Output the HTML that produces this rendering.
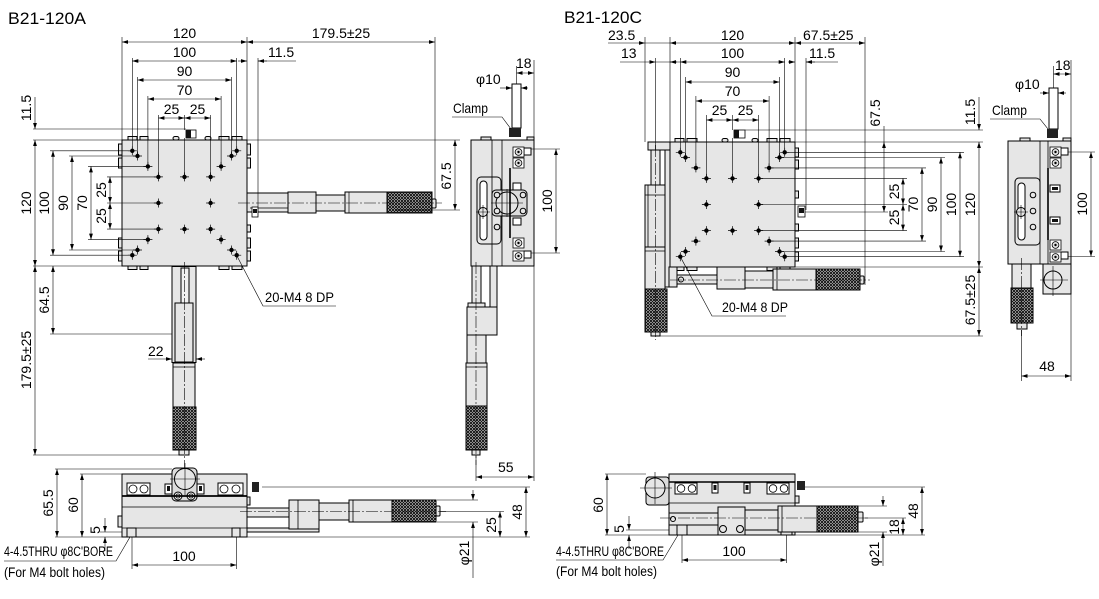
<!DOCTYPE html>
<html><head><meta charset="utf-8">
<style>html,body{margin:0;padding:0;background:#fff}svg{display:block}</style>
</head><body>
<svg xmlns="http://www.w3.org/2000/svg" width="1099" height="599" viewBox="0 0 1099 599" font-family="'Liberation Sans', Arial, sans-serif" font-size="14">
<defs>
<marker id="a" viewBox="0 0 10 10" refX="10" refY="5" markerWidth="6" markerHeight="6" markerUnits="userSpaceOnUse" orient="auto-start-reverse"><path d="M0,1.8L10,5L0,8.2z" fill="#000"/></marker>
<pattern id="k" width="3" height="3" patternUnits="userSpaceOnUse"><rect width="3" height="3" fill="#fff"/><path d="M0,0L3,3M3,0L0,3" stroke="#111" stroke-width="1"/></pattern>
<g id="h"><path d="M-4.5,0H4.5M0,-4.5V4.5" stroke="#000" stroke-width=".7"/><circle r="2.2" fill="#000"/></g>
<g id="b"><rect x="-5.5" y="-5" width="11" height="10" fill="#fff" stroke="#000" stroke-width=".8"/><circle r="3.4" fill="#e0e0e0" stroke="#000" stroke-width=".8"/><circle r="1.2" fill="#000"/></g>
</defs>
<rect width="1099" height="599" fill="#fff"/>

<!-- ================= B21-120A ================= -->
<text x="8" y="24" font-size="17" textLength="78" lengthAdjust="spacingAndGlyphs">B21-120A</text>

<g fill="#e6e6e6" stroke="#000" stroke-width="1">
  <rect x="128" y="136.5" width="9" height="3.5"/><rect x="140" y="136.5" width="8" height="3.5"/>
  <rect x="173" y="136.5" width="6" height="3.5" rx="2"/><rect x="205" y="136.5" width="6" height="3.5" rx="2"/>
  <rect x="219" y="136.5" width="10" height="3.5"/><rect x="232" y="136.5" width="10" height="3.5"/>
  <rect x="128" y="266" width="9" height="3.5"/><rect x="140" y="266" width="8" height="3.5"/>
  <rect x="219" y="266" width="10" height="3.5"/><rect x="232" y="266" width="10" height="3.5"/>
  <rect x="247" y="144" width="3.5" height="11"/><rect x="247" y="158" width="3.5" height="10"/>
  <rect x="247" y="225" width="3.5" height="7"/><rect x="247" y="238" width="3.5" height="10"/><rect x="247" y="251" width="3.5" height="10"/>
  <rect x="118.5" y="144" width="3.5" height="11"/><rect x="118.5" y="158" width="3.5" height="10"/>
  <rect x="118.5" y="238" width="3.5" height="10"/><rect x="118.5" y="251" width="3.5" height="10"/>
  <rect x="122" y="140" width="125" height="126"/>
  <rect x="247" y="193" width="41" height="19"/>
  <rect x="288" y="192" width="28" height="21"/>
  <rect x="316" y="195" width="29" height="16"/>
  <rect x="345" y="192" width="42" height="21"/>
  <rect x="387" y="192" width="45" height="21" fill="url(#k)"/>
  <rect x="432" y="199" width="4" height="9" rx="1"/>
  <rect x="172" y="266.5" width="24" height="96"/>
  <rect x="181" y="268" width="8" height="35" fill="#f2f2f2"/>
  <rect x="175" y="303" width="18" height="59"/>
  <rect x="173" y="363" width="22" height="44"/>
  <rect x="173" y="407" width="23" height="43" fill="url(#k)"/>
  <rect x="179" y="450" width="10" height="5"/>
</g>
<g stroke="#000" stroke-width=".7" fill="none">
  <path d="M250,208H288M349,192V213M173,367H195"/>
</g>
<rect x="186" y="130" width="10" height="8" fill="#fff" stroke="#000" stroke-width=".8"/><rect x="186" y="130" width="5" height="8" fill="#111"/>
<rect x="252" y="207" width="6" height="10" fill="#fff" stroke="#000" stroke-width=".8"/><rect x="253" y="209" width="4" height="4" fill="#111"/>
<g>
  <use href="#h" x="132.3" y="150.8"/><use href="#h" x="236.7" y="150.8"/><use href="#h" x="132.3" y="255.2"/><use href="#h" x="236.7" y="255.2"/>
  <use href="#h" x="137.5" y="156"/><use href="#h" x="231.5" y="156"/><use href="#h" x="137.5" y="250"/><use href="#h" x="231.5" y="250"/>
  <use href="#h" x="147.9" y="166.4"/><use href="#h" x="221.1" y="166.4"/><use href="#h" x="147.9" y="239.6"/><use href="#h" x="221.1" y="239.6"/>
  <use href="#h" x="158.4" y="176.9"/><use href="#h" x="210.6" y="176.9"/><use href="#h" x="158.4" y="229.1"/><use href="#h" x="210.6" y="229.1"/>
  <use href="#h" x="184.5" y="176.9"/><use href="#h" x="184.5" y="229.1"/><use href="#h" x="158.4" y="203"/><use href="#h" x="210.6" y="203"/>
</g>
<g stroke="#000" stroke-width=".6" fill="none" stroke-dasharray="12 2 2 2">
  <path d="M238,203H442M184.5,262V470"/>
</g>
<g stroke="#000" stroke-width=".6" fill="none">
  <path d="M122,37V140M247,37V192M435,37V199M132.3,58V150.8M236.7,58V150.8M258,58V207M137.5,77V156M231.5,77V156M147.9,96V166.4M221.1,96V166.4M158.4,115V176.9M210.6,115V176.9M184.5,115V130M184.5,138V176.9"/>
  <path d="M33,129H186M33,140H460M33,266H122M50,150.8H132.3M50,255.2H132.3M69,156H137.5M69,250H137.5M88,166.4H147.9M88,239.6H147.9M107,176.9H158.4M107,203H158.4M107,229.1H158.4M395,210H460M33,455H182M50,334H172M258,61H296"/>
  <g marker-start="url(#a)" marker-end="url(#a)">
    <path d="M122,42H247"/><path d="M247,42H435"/><path d="M132.3,61H236.7"/><path d="M137.5,80H231.5"/><path d="M147.9,99H221.1"/>
    <path d="M158.4,118H184.5"/><path d="M184.5,118H210.6"/>
    <path d="M35,140V266"/><path d="M53,150.8V255.2"/><path d="M72,156V250"/><path d="M91,166.4V239.6"/>
    <path d="M110,176.9V203"/><path d="M110,203V229.1"/><path d="M455,140V210"/>
    <path d="M35,266V455"/><path d="M53,266V334"/>
  </g>
  <g marker-end="url(#a)">
    <path d="M238,61H247"/><path d="M267,61H258"/><path d="M35,97V129"/>
    <path d="M148,359H172"/><path d="M205,359H196"/>
  </g>
  <path d="M237,256L263,306H336"/>
</g>
<g text-anchor="middle">
  <text x="184.5" y="38">120</text><text x="341" y="38">179.5±25</text>
  <text x="184.5" y="57">100</text><text x="184.5" y="76">90</text><text x="184.5" y="95">70</text>
  <text x="171.5" y="114">25</text><text x="197.5" y="114">25</text>
  <text transform="translate(31,108) rotate(-90)">11.5</text>
  <text transform="translate(31,203) rotate(-90)">120</text>
  <text transform="translate(49,203) rotate(-90)">100</text>
  <text transform="translate(68,203) rotate(-90)">90</text>
  <text transform="translate(87,203) rotate(-90)">70</text>
  <text transform="translate(106,190) rotate(-90)">25</text>
  <text transform="translate(106,216) rotate(-90)">25</text>
  <text transform="translate(451,176) rotate(-90)">67.5</text>
  <text transform="translate(49,300) rotate(-90)">64.5</text>
  <text transform="translate(31,360) rotate(-90)">179.5±25</text>
</g>
<text x="268" y="57">11.5</text>
<text x="148" y="356">22</text>
<text x="265" y="302" textLength="69" lengthAdjust="spacingAndGlyphs">20-M4 8 DP</text>

<!-- A side view -->
<g fill="#e6e6e6" stroke="#000" stroke-width="1">
  <rect x="481" y="137" width="10" height="3"/><rect x="527" y="137" width="7" height="3"/>
  <rect x="512" y="84" width="9" height="44" fill="#fff"/>
  <rect x="471" y="140" width="63" height="126"/>
  <rect x="477" y="177" width="24" height="67" rx="4"/>
  <rect x="480" y="181" width="7" height="59" rx="3.5" fill="#fff"/>
  <rect x="492" y="190" width="35" height="26" rx="4" fill="#dcdcdc"/>
  <circle cx="507" cy="203" r="11"/>
  <circle cx="483" cy="212" r="4.5"/>
  <circle cx="497" cy="195" r="2.8"/><circle cx="497" cy="211" r="2.8"/><circle cx="497" cy="227" r="2.8"/>
  <circle cx="523" cy="195" r="2.8"/><circle cx="523" cy="211" r="2.8"/>
  <rect x="513" y="183" width="8" height="7" fill="#fff"/><rect x="513" y="218" width="8" height="7" fill="#fff"/>
  <rect x="524" y="148" width="7" height="7" fill="#fff"/><rect x="524" y="251" width="7" height="7" fill="#fff"/>
  <rect x="472" y="266" width="9" height="37"/>
  <rect x="490" y="266" width="7" height="69"/>
  <rect x="468" y="303" width="17" height="4"/>
  <rect x="467" y="307" width="30" height="28"/>
  <rect x="467" y="335" width="19" height="28"/>
  <rect x="466" y="363" width="21" height="43"/>
  <rect x="466" y="406" width="21" height="44" fill="url(#k)"/>
  <rect x="472" y="450" width="8" height="5"/>
</g>
<rect x="509" y="128" width="12" height="9" fill="#222"/>
<use href="#b" x="518.5" y="152"/><use href="#b" x="518.5" y="163"/><use href="#b" x="518.5" y="243"/><use href="#b" x="518.5" y="256"/>
<g stroke="#000" fill="none">
  <path d="M492,140V266M502,140V266M466,367H487" stroke-width=".8"/>
  <path d="M510,168V238" stroke-width="1.6"/>
  <path d="M491,203H523M507,189V217M476,212H490M483,205V219" stroke-width=".6"/>
  <path d="M476,262V465" stroke-width=".6" stroke-dasharray="12 2 2 2"/>
</g>
<g stroke="#000" stroke-width=".6" fill="none">
  <path d="M452,117H502L511,129"/>
  <path d="M516.5,66V84M534,60V481M531,149H560M531,253H560M476,455V481"/>
  <g marker-start="url(#a)" marker-end="url(#a)">
    <path d="M516.5,73H534"/><path d="M556,149V253"/><path d="M476,477H534"/>
  </g>
  <g marker-end="url(#a)"><path d="M500,88H512"/><path d="M528,88H521"/></g>
</g>
<text x="453" y="113" textLength="35" lengthAdjust="spacingAndGlyphs">Clamp</text>
<text x="476" y="84">φ10</text>
<text x="516" y="68">18</text>
<text x="498" y="472">55</text>
<text transform="translate(552,201) rotate(-90)" text-anchor="middle">100</text>

<!-- A front view -->
<g fill="#e6e6e6" stroke="#000" stroke-width="1">
  <rect x="118" y="516" width="4" height="11"/>
  <rect x="247" y="497" width="3" height="8"/>
  <rect x="122" y="474" width="125" height="63"/>
  <rect x="127" y="528" width="9" height="9"/><rect x="232" y="528" width="8" height="9"/>
  <rect x="127" y="483" width="23" height="12" fill="#fff"/><rect x="218" y="483" width="25" height="12" fill="#fff"/>
  <rect x="165" y="484" width="7" height="10" fill="#fff"/><rect x="197" y="484" width="7" height="10" fill="#fff"/>
  <rect x="172" y="468" width="25" height="33" rx="4" fill="#dcdcdc"/>
  <circle cx="185" cy="479" r="10.5"/>
  <circle cx="178" cy="496" r="4"/><circle cx="191" cy="496" r="4"/>
  <rect x="247" y="528" width="72" height="4"/>
  <rect x="247" y="508" width="42" height="9"/>
  <rect x="289" y="500" width="30" height="29"/>
  <rect x="319" y="503" width="30" height="17"/>
  <rect x="349" y="500" width="43" height="22"/>
  <rect x="392" y="500" width="44" height="22" fill="url(#k)"/>
  <rect x="436" y="506" width="4" height="10" rx="1"/>
</g>
<g fill="#fff" stroke="#000" stroke-width=".8">
  <circle cx="133" cy="489" r="4"/><circle cx="144" cy="489" r="4"/><circle cx="224" cy="489" r="4"/><circle cx="236" cy="489" r="4"/>
  <circle cx="178" cy="496" r="2"/><circle cx="191" cy="496" r="2"/>
</g>
<rect x="252" y="482" width="7" height="10" fill="#222"/>
<rect x="167" y="486" width="3" height="5" fill="#111"/><rect x="199" y="486" width="3" height="5" fill="#111"/>
<g stroke="#000" fill="none">
  <path d="M122,496H247" stroke-width="1.8"/>
  <path d="M122,507H247M122,528H247M353,500V522M298,500V529" stroke-width=".8"/>
  <path d="M170,479H200M185,463V495" stroke-width=".6"/>
  <path d="M240,511.5H446" stroke-width=".6" stroke-dasharray="12 2 2 2"/>
</g>
<g stroke="#000" stroke-width=".6" fill="none">
  <path d="M55,469H172M80,474H122M55,537H530M100,532H122M262,487H530M440,511.5H504M437,500H478M437,522H478M473,532V578M132,537V569M236.5,537V569"/>
  <g marker-start="url(#a)" marker-end="url(#a)">
    <path d="M57,469V537"/><path d="M82,474V537"/><path d="M526,487V537"/><path d="M500,511.5V537"/><path d="M132,565H236.5"/>
  </g>
  <g marker-end="url(#a)">
    <path d="M105,518V532"/><path d="M105,551V537"/><path d="M473,490V500"/><path d="M473,532V522"/>
  </g>
  <path d="M4,561H116L130,537"/>
</g>
<g text-anchor="middle">
  <text transform="translate(53,503) rotate(-90)">65.5</text>
  <text transform="translate(78,505) rotate(-90)">60</text>
  <text transform="translate(100,530) rotate(-90)">5</text>
  <text transform="translate(522,512) rotate(-90)">48</text>
  <text transform="translate(496,525) rotate(-90)">25</text>
  <text transform="translate(469,553) rotate(-90)">φ21</text>
  <text x="184" y="561">100</text>
</g>
<text x="4" y="556" font-size="13.5" textLength="109" lengthAdjust="spacingAndGlyphs">4-4.5THRU φ8C'BORE</text>
<text x="4" y="577" font-size="13.5" textLength="101" lengthAdjust="spacingAndGlyphs">(For M4 bolt holes)</text>

<!-- ================= B21-120C ================= -->
<text x="564" y="23" font-size="17" textLength="78" lengthAdjust="spacingAndGlyphs">B21-120C</text>

<g fill="#e6e6e6" stroke="#000" stroke-width="1">
  <rect x="675" y="138.5" width="9" height="3.5"/><rect x="687" y="138.5" width="10" height="3.5"/>
  <rect x="722" y="138.5" width="6" height="3.5" rx="2"/><rect x="752" y="138.5" width="6" height="3.5" rx="2"/>
  <rect x="767" y="138.5" width="10" height="3.5"/><rect x="780" y="138.5" width="10" height="3.5"/>
  <rect x="675" y="267" width="9" height="3.5"/><rect x="687" y="267" width="10" height="3.5"/>
  <rect x="767" y="267" width="10" height="3.5"/><rect x="780" y="267" width="10" height="3.5"/>
  <rect x="795" y="148" width="3.5" height="9"/><rect x="795" y="160" width="3.5" height="9"/>
  <rect x="795" y="191" width="3.5" height="7"/><rect x="795" y="224" width="3.5" height="7"/>
  <rect x="795" y="238" width="3.5" height="10"/><rect x="795" y="252" width="3.5" height="9"/>
  <rect x="648" y="142" width="22" height="8"/>
  <rect x="665" y="150" width="5" height="137"/>
  <rect x="670" y="142" width="125" height="125"/>
  <rect x="651" y="150" width="9" height="35"/>
  <rect x="645" y="185" width="20" height="62"/>
  <rect x="645" y="247" width="20" height="42"/>
  <rect x="645" y="289" width="22" height="43" fill="url(#k)"/>
  <rect x="651" y="332" width="9" height="4"/>
  <rect x="669" y="267" width="8" height="20"/>
  <rect x="677" y="275" width="40" height="9"/>
  <circle cx="681" cy="279.5" r="2.5"/>
  <rect x="717" y="267" width="28" height="22"/>
  <rect x="745" y="271" width="28" height="17"/>
  <rect x="773" y="269" width="43" height="21"/>
  <rect x="816" y="269" width="44" height="21" fill="url(#k)"/>
  <rect x="860" y="276" width="4" height="8" rx="1"/>
</g>
<g stroke="#000" fill="none" stroke-width=".8">
  <path d="M645,195H665M645,251H665M777,269V290M648,185V247"/>
</g>
<rect x="734" y="130" width="11" height="8" fill="#fff" stroke="#000" stroke-width=".8"/><rect x="734" y="130" width="5" height="8" fill="#111"/>
<rect x="798" y="206" width="7" height="11" fill="#fff" stroke="#000" stroke-width=".8"/><rect x="799" y="208" width="5" height="5" fill="#111"/>
<g>
  <use href="#h" x="680.3" y="152.3"/><use href="#h" x="784.7" y="152.3"/><use href="#h" x="680.3" y="256.7"/><use href="#h" x="784.7" y="256.7"/>
  <use href="#h" x="685.5" y="157.5"/><use href="#h" x="779.5" y="157.5"/><use href="#h" x="685.5" y="251.5"/><use href="#h" x="779.5" y="251.5"/>
  <use href="#h" x="695.9" y="167.9"/><use href="#h" x="769.1" y="167.9"/><use href="#h" x="695.9" y="241.1"/><use href="#h" x="769.1" y="241.1"/>
  <use href="#h" x="706.4" y="178.4"/><use href="#h" x="758.6" y="178.4"/><use href="#h" x="706.4" y="230.6"/><use href="#h" x="758.6" y="230.6"/>
  <use href="#h" x="732.5" y="178.4"/><use href="#h" x="732.5" y="230.6"/><use href="#h" x="706.4" y="204.5"/><use href="#h" x="758.6" y="204.5"/>
</g>
<g stroke="#000" stroke-width=".6" fill="none" stroke-dasharray="12 2 2 2">
  <path d="M655.5,145V340M670,280H870"/>
</g>
<g stroke="#000" stroke-width=".6" fill="none">
  <path d="M645,37V142M655.5,58V150M670,37V142M795,37V142M865,37V285M680.3,58V152.3M784.7,58V152.3M685.5,77V157.5M779.5,77V157.5M695.9,96V167.9M769.1,96V167.9M706.4,115V178.4M758.6,115V178.4M732.5,115V130M732.5,138V178.4M806,58V210"/>
  <path d="M745,130H983M795,142H983M795,267H983M655,336H983M805,212H888M784.7,152.3H964M779.5,157.5H945M769.1,167.9H926M758.6,178.4H907M758.6,204.5H907M758.6,230.6H907M769.1,241.1H926M779.5,251.5H945M784.7,256.7H964"/>
  <path d="M645,43H670M655.5,62H680.3M806,62H838M884,126V142"/>
  <g marker-start="url(#a)" marker-end="url(#a)">
    <path d="M670,43H795"/><path d="M795,43H865"/><path d="M680.3,62H784.7"/><path d="M685.5,82H779.5"/><path d="M695.9,101H769.1"/>
    <path d="M706.4,120H732.5"/><path d="M732.5,120H758.6"/>
    <path d="M979,142V267"/><path d="M979,267V336"/><path d="M960,152.3V256.7"/><path d="M941,157.5V251.5"/><path d="M922,167.9V241.1"/>
    <path d="M903,178.4V204.5"/><path d="M903,204.5V230.6"/><path d="M884,142V212"/>
  </g>
  <g marker-end="url(#a)">
    <path d="M608,43H645"/><path d="M620,62H655.5"/><path d="M677,62H670"/><path d="M788,62H795"/><path d="M815,62H806"/><path d="M979,97V130"/>
  </g>
  <path d="M680.3,256.7L712,316H786"/>
</g>
<g text-anchor="middle">
  <text x="732.5" y="40">120</text><text x="732.5" y="58">100</text><text x="732.5" y="77">90</text><text x="732.5" y="96">70</text>
  <text x="719.5" y="115">25</text><text x="745.5" y="115">25</text>
  <text transform="translate(880,113) rotate(-90)">67.5</text>
  <text transform="translate(975,112) rotate(-90)">11.5</text>
  <text transform="translate(975,204.5) rotate(-90)">120</text>
  <text transform="translate(956,204.5) rotate(-90)">100</text>
  <text transform="translate(937,204.5) rotate(-90)">90</text>
  <text transform="translate(918,204.5) rotate(-90)">70</text>
  <text transform="translate(899,191.5) rotate(-90)">25</text>
  <text transform="translate(899,217.5) rotate(-90)">25</text>
  <text transform="translate(975,300) rotate(-90)">67.5±25</text>
</g>
<text x="608" y="40">23.5</text>
<text x="621" y="58">13</text>
<text x="803" y="40">67.5±25</text>
<text x="809" y="58">11.5</text>
<text x="722" y="312" textLength="66" lengthAdjust="spacingAndGlyphs">20-M4 8 DP</text>

<!-- C side view -->
<g fill="#e6e6e6" stroke="#000" stroke-width="1">
  <rect x="1020" y="138" width="10" height="3"/><rect x="1063" y="138" width="8" height="3"/>
  <rect x="1049" y="88" width="9" height="41" fill="#fff"/>
  <rect x="1008" y="141" width="63" height="123"/>
  <rect x="1015" y="178" width="25" height="67" rx="4"/>
  <rect x="1018" y="183" width="7" height="57" rx="3.5" fill="#fff"/>
  <circle cx="1021" cy="212" r="4.5"/>
  <circle cx="1033" cy="195" r="2.8"/><circle cx="1033" cy="211" r="2.8"/><circle cx="1033" cy="227" r="2.8"/>
  <rect x="1050" y="185" width="10" height="7" fill="#fff"/><rect x="1050" y="217" width="10" height="7" fill="#fff"/>
  <rect x="1061" y="148" width="7" height="7" fill="#fff"/><rect x="1061" y="252" width="7" height="7" fill="#fff"/>
  <rect x="1043" y="264" width="28" height="30"/>
  <circle cx="1053" cy="280" r="9"/>
  <rect x="1012" y="264" width="19" height="24"/>
  <rect x="1011" y="288" width="22" height="35" fill="url(#k)"/>
  <rect x="1017" y="323" width="10" height="6"/>
</g>
<rect x="1047" y="129" width="11" height="9" fill="#222"/>
<rect x="1052" y="187" width="6" height="3" fill="#111"/><rect x="1052" y="219" width="6" height="3" fill="#111"/>
<use href="#b" x="1055.5" y="152"/><use href="#b" x="1055.5" y="163"/><use href="#b" x="1055.5" y="245"/><use href="#b" x="1055.5" y="257"/>
<g stroke="#000" fill="none">
  <path d="M1040,141V264M1048,141V264" stroke-width=".8"/>
  <path d="M1048,168V240" stroke-width="1.6"/>
  <path d="M1014,212H1028M1021,205V219M1040,280H1068M1053,266V296" stroke-width=".6"/>
  <path d="M1021.5,258V336" stroke-width=".6" stroke-dasharray="12 2 2 2"/>
</g>
<g stroke="#000" stroke-width=".6" fill="none">
  <path d="M990,119H1040L1048,129"/>
  <path d="M1053.5,66V88M1071,60V381M1068,152H1095M1068,256.5H1095M1021.5,330V381"/>
  <g marker-start="url(#a)" marker-end="url(#a)">
    <path d="M1053.5,74H1071"/><path d="M1091,152V256.5"/><path d="M1021.5,376H1071"/>
  </g>
  <g marker-end="url(#a)"><path d="M1040,93H1049"/><path d="M1066,93H1058"/></g>
</g>
<text x="992" y="115" textLength="35" lengthAdjust="spacingAndGlyphs">Clamp</text>
<text x="1015" y="89">φ10</text>
<text x="1055" y="70">18</text>
<text x="1047" y="371" text-anchor="middle">48</text>
<text transform="translate(1087,204) rotate(-90)" text-anchor="middle">100</text>

<!-- C front view -->
<g fill="#e6e6e6" stroke="#000" stroke-width="1">
  <rect x="795" y="496" width="4" height="7"/>
  <rect x="669" y="474" width="126" height="61"/>
  <rect x="646" y="477" width="23" height="28" rx="3" fill="#dcdcdc"/>
  <circle cx="655" cy="488" r="10"/>
  <rect x="675" y="483" width="22" height="11" fill="#fff"/><rect x="767" y="483" width="22" height="11" fill="#fff"/>
  <rect x="712" y="483" width="6" height="10" fill="#fff"/><rect x="744" y="483" width="6" height="10" fill="#fff"/>
  <rect x="669" y="513" width="49" height="12"/>
  <circle cx="673" cy="519" r="2.5"/>
  <rect x="677" y="525" width="10" height="10"/><rect x="781" y="525" width="11" height="10"/>
  <rect x="718" y="507" width="27" height="28"/>
  <circle cx="723" cy="529" r="3.5"/><circle cx="740" cy="529" r="3.5"/>
  <rect x="745" y="510" width="33" height="20"/>
  <rect x="778" y="506" width="39" height="26"/>
  <rect x="817" y="506" width="41" height="26" fill="url(#k)"/>
  <rect x="858" y="512" width="5" height="10" rx="1"/>
</g>
<g fill="#fff" stroke="#000" stroke-width=".8">
  <circle cx="681" cy="488.5" r="3.8"/><circle cx="692" cy="488.5" r="3.8"/><circle cx="773" cy="488.5" r="3.8"/><circle cx="784" cy="488.5" r="3.8"/>
</g>
<rect x="797" y="481" width="8" height="9" fill="#222"/>
<rect x="713.5" y="485" width="3" height="5" fill="#111"/><rect x="745.5" y="485" width="3" height="5" fill="#111"/>
<g stroke="#000" fill="none">
  <path d="M669,482H795" stroke-width="1.6"/>
  <path d="M669,503H795M782,506V532" stroke-width=".8"/>
  <path d="M640,488H672M655,472V504" stroke-width=".6"/>
  <path d="M660,518H868" stroke-width=".6" stroke-dasharray="12 2 2 2"/>
</g>
<g stroke="#000" stroke-width=".6" fill="none">
  <path d="M605,474H646M605,535H925M626,530H669M805,487H925M865,518H906M858,506H887M858,532H887M883,542V566M682,535V563M786.5,535V563"/>
  <g marker-start="url(#a)" marker-end="url(#a)">
    <path d="M607,474V535"/><path d="M922,487V535"/><path d="M903,518V535"/><path d="M682,560H786.5"/>
  </g>
  <g marker-end="url(#a)">
    <path d="M629,516V530"/><path d="M629,549V535"/><path d="M883,496V506"/><path d="M883,542V532"/>
  </g>
  <path d="M556,560H663L678,535"/>
</g>
<g text-anchor="middle">
  <text transform="translate(603,505) rotate(-90)">60</text>
  <text transform="translate(624,529) rotate(-90)">5</text>
  <text transform="translate(918,511) rotate(-90)">48</text>
  <text transform="translate(899,527) rotate(-90)">18</text>
  <text transform="translate(879,554) rotate(-90)">φ21</text>
  <text x="734" y="556">100</text>
</g>
<text x="556" y="556" font-size="13.5" textLength="108" lengthAdjust="spacingAndGlyphs">4-4.5THRU φ8C'BORE</text>
<text x="556" y="576" font-size="13.5" textLength="101" lengthAdjust="spacingAndGlyphs">(For M4 bolt holes)</text>
</svg>
</body></html>
